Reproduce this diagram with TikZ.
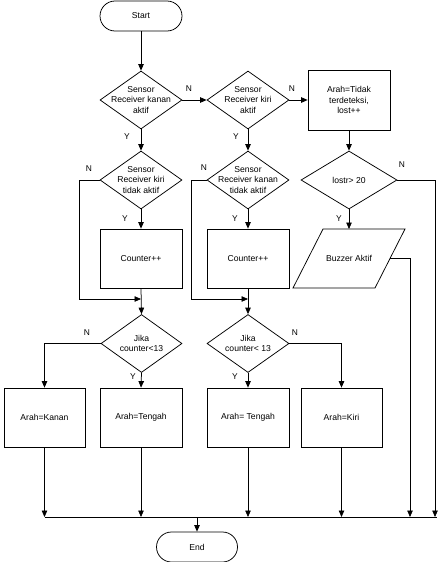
\documentclass[tikz,border=0pt]{standalone}
\usepackage{fontspec}
\setmainfont{Liberation Sans}
\usetikzlibrary{shapes.geometric,arrows.meta}
\begin{document}
\begin{tikzpicture}[x=1pt,y=-1pt,
  every node/.style={font=\fontsize{8.6}{10.5}\selectfont, inner sep=0pt},
  term/.style={draw, rounded corners=15pt, minimum width=82pt, minimum height=30pt},
  dia/.style={draw, diamond, minimum width=82pt, minimum height=58pt},
  proc/.style={draw, rectangle, minimum width=82pt, minimum height=59pt, align=center},
  txt/.style={align=center},
  lbl/.style={font=\fontsize{8.4}{10}\selectfont},
  arr/.style={-{Triangle[length=6.5pt,width=5.5pt]}},
  line width=0.75pt]
\useasboundingbox (0,0) rectangle (438,562);

% terminators
\node[term] (start) at (141,16) {Start};
\node[term, minimum width=81pt] (end) at (197,547) {End};

% row 1
\node[dia] (d1) at (141,100) {};
\node[txt] (t1) at (d1) {Sensor\\Receiver kanan\\aktif};
\node[dia] (d2) at (248,100) {};
\node[txt] (t2) at (d2) {Sensor\\Receiver kiri\\aktif};
\node[proc, minimum height=60pt] (bx) at (349,100) {Arah=Tidak\\terdeteksi,\\lost++};

% row 2
\node[dia] (d3) at (141,180) {};
\node[txt] (t3) at (d3) {Sensor\\Receiver kiri\\tidak aktif};
\node[dia] (d4) at (248,180) {};
\node[txt] (t4) at (d4) {Sensor\\Receiver kanan\\tidak aktif};
\node[dia, minimum width=96pt] (d5) at (349,180) {};
\node[txt] (t5) at (d5) {lostr> 20};

\node[proc] (c1) at (141,258.5) {Counter++};
\node[proc] (c2) at (248,258.5) {Counter++};
\node (buz) at (349,258.5) {Buzzer Aktif};
\draw (293,288) -- (323,229) -- (405,229) -- (375,288) -- cycle;
\coordinate (buzT) at (349,229);
\coordinate (buzE) at (390,258.5);

% row 3
\node[dia, minimum width=81pt] (d6) at (141.5,343.5) {};
\node[txt] (t6) at (d6) {Jika\\counter<13};
\node[dia] (d7) at (248,343.5) {};
\node[txt] (t7) at (d7) {Jika\\counter< 13};

\node[proc, minimum width=81pt] (k1) at (44.5,417.5) {Arah=Kanan};
\node[proc] (k2) at (141,417.5) {Arah=Tengah};
\node[proc] (k3) at (248,417.5) {Arah= Tengah};
\node[proc, minimum width=81pt] (k4) at (341.5,417.5) {Arah=Kiri};

% merge points
\coordinate (m1) at (141,299);
\coordinate (m2) at (248,299);
\coordinate (busL) at (44.5,517);
\coordinate (busR) at (437,517);
\coordinate (busE) at (197,517);
\coordinate (r1) at (435,180);
\coordinate (r1b) at (435,517);
\coordinate (r2) at (410,258.5);
\coordinate (r2b) at (410,517);

% connectors
\draw[arr] (start) -- (d1);
\draw[arr] (d1.east) -- (d2.west);
\draw[arr] (d2.east) -- (bx.west);
\draw[arr] (d1.south) -- (d3.north);
\draw[arr] (d2.south) -- (d4.north);
\draw[arr] (bx.south) -- (d5.north);
\draw[arr] (d3.south) -- (c1.north);
\draw[arr] (d4.south) -- (c2.north);
\draw[arr] (d5.south) -- (buzT);
\draw[arr] (d3.west) -- ++(-20,0) |- (m1);
\draw[arr] (d4.west) -- ++(-15,0) |- (m2);
\draw[arr] (c1.south) -- (d6.north);
\draw[arr] (c2.south) -- (d7.north);
\draw[arr] (d5.east) -- (r1) -- (r1b);
\draw[arr] (buzE) -- (r2) -- (r2b);
\draw[arr] (d6.west) -| (k1.north);
\draw[arr] (d6.south) -- (k2.north);
\draw[arr] (d7.south) -- (k3.north);
\draw[arr] (d7.east) -| (k4.north);
\draw (busL) -- (busR);
\draw[arr] (k1.south) -- (k1.south |- busL);
\draw[arr] (k2.south) -- (k2.south |- busL);
\draw[arr] (k3.south) -- (k3.south |- busL);
\draw[arr] (k4.south) -- (k4.south |- busL);
\draw[arr] (busE) -- (end.north);

% labels
\node[lbl] (n1) at (189,89) {N};
\node[lbl] (n2) at (292,89) {N};
\node[lbl] (n3) at (89,169) {N};
\node[lbl] (n4) at (204,168) {N};
\node[lbl] (n5) at (402,165) {N};
\node[lbl] (n6) at (87,333) {N};
\node[lbl] (n7) at (295,333) {N};
\node[lbl] (y1) at (127,137) {Y};
\node[lbl] (y2) at (236,137) {Y};
\node[lbl] (y3) at (125,219) {Y};
\node[lbl] (y4) at (235,219) {Y};
\node[lbl] (y5) at (339,219) {Y};
\node[lbl] (y6) at (133,377) {Y};
\node[lbl] (y7) at (235,377) {Y};
\end{tikzpicture}
\end{document}
